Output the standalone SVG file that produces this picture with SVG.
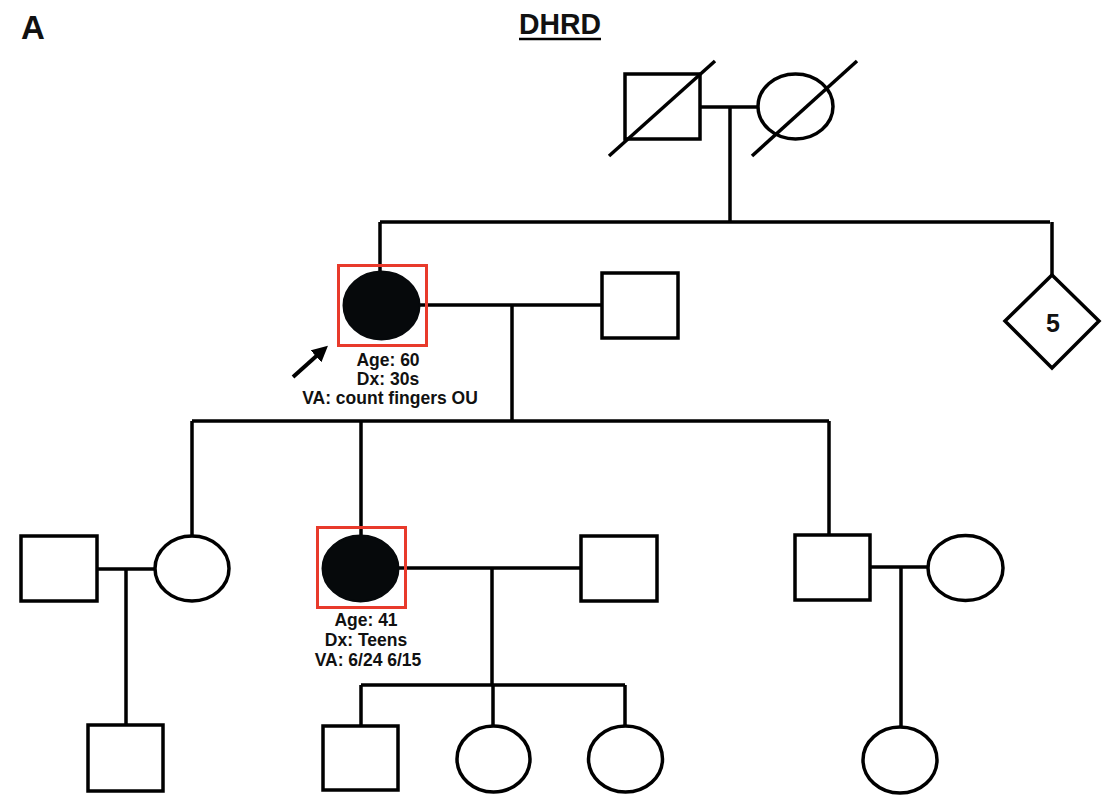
<svg xmlns="http://www.w3.org/2000/svg" width="1111" height="796" viewBox="0 0 1111 796">
<style>
.s{fill:#fff;stroke:#000;stroke-width:3.5}
.a{fill:#06090b;stroke:#06090b;stroke-width:2}
.r{fill:none;stroke:#e83a2b;stroke-width:3}
.l{fill:none;stroke:#000;stroke-width:3.5}
.t{font-family:"Liberation Sans",Arial,sans-serif;font-weight:bold;fill:#111;text-anchor:middle}
.lab{font-size:17.5px}
</style>
<defs>
<marker id="ah" viewBox="0 0 10 10" refX="5" refY="5" markerWidth="4" markerHeight="4" orient="auto" markerUnits="strokeWidth">
<path d="M0,0 L10,5 L0,10 z" fill="#000"/>
</marker>
</defs>
<rect width="1111" height="796" fill="#fff"/>
<text x="21" y="39" class="t" style="font-size:33px;text-anchor:start">A</text>
<text x="560" y="34" class="t" style="font-size:30px" textLength="82" lengthAdjust="spacingAndGlyphs">DHRD</text>
<line x1="519" y1="39" x2="601" y2="39" stroke="#000" stroke-width="2.5"/>

<g id="connectors">
<path class="l" d="M700,107 H758 M730,107 V222 M380,222 H1050 M380,222 V271 M1052,222 V275"/>
<path class="l" d="M420,305 H602 M512,305 V421 M192,421 H829 M192,421 V536 M361,421 V535 M829,421 V535"/>
<path class="l" d="M97,569 H155 M126,569 V725"/>
<path class="l" d="M399,568 H581 M492,568 V685 M361,685 H625 M361,685 V726 M493,685 V726 M625,685 V726"/>
<path class="l" d="M870,567 H928 M901,567 V727"/>
<line x1="293" y1="377" x2="322" y2="351" stroke="#000" stroke-width="4" marker-end="url(#ah)"/>
</g>

<g id="I-1"><rect class="s" x="625" y="74" width="75" height="65"/><line class="l" x1="609" y1="156" x2="715" y2="61"/></g>
<g id="I-2"><ellipse class="s" cx="795.5" cy="106.5" rx="37.5" ry="32.5"/><line class="l" x1="752" y1="156" x2="857" y2="61"/></g>

<g id="II-1">
<ellipse class="a" cx="381.5" cy="305.5" rx="38" ry="34"/>
<rect class="r" x="338.5" y="265.5" width="88" height="80"/>
<text class="t lab" x="388" y="366">Age: 60</text>
<text class="t lab" x="388" y="385">Dx: 30s</text>
<text class="t lab" x="390" y="404">VA: count fingers OU</text>
</g>
<g id="II-2"><rect class="s" x="602" y="273" width="76" height="65"/></g>
<g id="II-3"><path class="s" d="M1052,275 L1099,321 L1052,368 L1005,321 Z"/><text class="t" x="1053" y="332" style="font-size:25px">5</text></g>

<g id="III-1"><rect class="s" x="21" y="536" width="76" height="65"/></g>
<g id="III-2"><ellipse class="s" cx="192" cy="568.5" rx="37" ry="32.5"/></g>
<g id="III-3">
<ellipse class="a" cx="360.5" cy="568.5" rx="38" ry="33"/>
<rect class="r" x="317.5" y="527.5" width="88" height="80"/>
<text class="t lab" x="366" y="626">Age: 41</text>
<text class="t lab" x="366" y="646">Dx: Teens</text>
<text class="t lab" x="368" y="666">VA: 6/24 6/15</text>
</g>
<g id="III-4"><rect class="s" x="581" y="536" width="76" height="65"/></g>
<g id="III-5"><rect class="s" x="795" y="535" width="75" height="65"/></g>
<g id="III-6"><ellipse class="s" cx="965.5" cy="568" rx="37.5" ry="32.5"/></g>

<g id="IV-1"><rect class="s" x="88" y="725" width="75" height="66"/></g>
<g id="IV-2"><rect class="s" x="323" y="726" width="75" height="64"/></g>
<g id="IV-3"><ellipse class="s" cx="493.5" cy="759" rx="36.5" ry="33"/></g>
<g id="IV-4"><ellipse class="s" cx="625.5" cy="759" rx="37" ry="33"/></g>
<g id="IV-5"><ellipse class="s" cx="900" cy="760" rx="37" ry="33"/></g>
</svg>
